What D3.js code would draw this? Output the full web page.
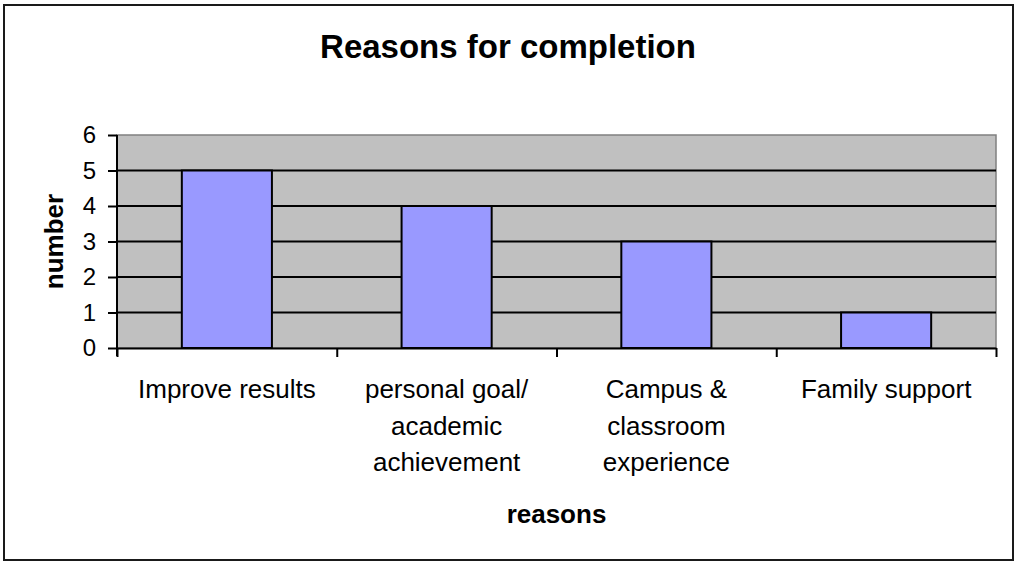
<!DOCTYPE html>
<meta charset="utf-8">
<style>
  body { margin: 0; background: #fff; }
  text { font-family: "Liberation Sans", Arial, sans-serif; fill: #000; }
</style>
<body>
<script src="https://cdn.jsdelivr.net/npm/d3@7"></script>
<script>
  // chart data
  var categories = ["Improve results", "personal goal/ academic achievement", "Campus & classroom experience", "Family support"];
  var tickLabels = [["Improve results"], ["personal goal/", "academic", "achievement"], ["Campus &", "classroom", "experience"], ["Family support"]];
  var values = [5, 4, 3, 1];
  var yTicks = [0, 1, 2, 3, 4, 5, 6];

  var W = 1016, H = 562;
  var plot = {left: 117, right: 996, top: 135, bottom: 348};

  var svg = d3.select("body").append("svg")
      .attr("width", W)
      .attr("height", H);

  // outer chart border
  svg.append("rect")
      .attr("x", 4).attr("y", 5)
      .attr("width", 1009).attr("height", 555)
      .attr("fill", "#fff")
      .attr("stroke", "#1a1a1a")
      .attr("stroke-width", 2);

  var x = d3.scaleBand()
      .domain(categories)
      .range([plot.left, plot.right])
      .paddingInner(0.59)
      .paddingOuter(0.295);

  // boundaries between categories, for the tick marks
  var xEdge = d3.scaleLinear()
      .domain([0, categories.length])
      .range([plot.left, plot.right]);

  var y = d3.scaleLinear()
      .domain([0, 6])
      .range([plot.bottom, plot.top]);

  // plot area
  svg.append("rect")
      .attr("x", plot.left).attr("y", plot.top)
      .attr("width", plot.right - plot.left)
      .attr("height", plot.bottom - plot.top)
      .attr("fill", "#c0c0c0")
      .attr("stroke", "#808080")
      .attr("stroke-width", 1.5);

  // gridlines
  svg.append("g").selectAll("line")
      .data(yTicks.filter(function (d) { return d > 0 && d < 6; }))
      .enter().append("line")
      .attr("x1", plot.left).attr("x2", plot.right)
      .attr("y1", function (d) { return y(d); })
      .attr("y2", function (d) { return y(d); })
      .attr("stroke", "#000")
      .attr("stroke-width", 2);

  // bars
  svg.selectAll(".bar")
      .data(values)
      .enter().append("rect")
      .attr("class", "bar")
      .attr("x", function (d, i) { return x(categories[i]); })
      .attr("width", x.bandwidth())
      .attr("y", function (d) { return y(d); })
      .attr("height", function (d) { return y(0) - y(d); })
      .attr("fill", "#9999ff")
      .attr("stroke", "#000")
      .attr("stroke-width", 2);

  // y axis
  var yAxis = svg.append("g")
      .attr("transform", "translate(" + plot.left + ",0)")
      .call(d3.axisLeft(y).tickValues(yTicks).tickFormat(d3.format("d")).tickSize(9).tickPadding(12));
  yAxis.select(".domain").attr("stroke", "#000").attr("stroke-width", 2)
      .attr("d", "M0," + (plot.bottom + 8) + "V" + plot.top);
  yAxis.selectAll(".tick line").attr("stroke", "#000").attr("stroke-width", 2);
  yAxis.selectAll("text").style("font-size", "24px").style("font-family", "'Liberation Sans', Arial, sans-serif").attr("fill", "#000");

  // x axis: ticks on category boundaries
  var xAxis = svg.append("g")
      .attr("transform", "translate(0," + plot.bottom + ")")
      .call(d3.axisBottom(xEdge).ticks(categories.length).tickFormat("").tickSize(9).tickSizeOuter(0));
  xAxis.select(".domain").attr("stroke", "#000").attr("stroke-width", 2);
  xAxis.selectAll(".tick line").attr("stroke", "#000").attr("stroke-width", 2);

  // category labels
  var lab = svg.append("g").selectAll("text")
      .data(tickLabels)
      .enter().append("text")
      .attr("text-anchor", "middle")
      .style("font-size", "26px")
      .attr("transform", function (d, i) {
        return "translate(" + (x(categories[i]) + x.bandwidth() / 2) + ",398)";
      });
  lab.selectAll("tspan")
      .data(function (d) { return d; })
      .enter().append("tspan")
      .attr("x", 0)
      .attr("y", function (d, i) { return i * 36.5; })
      .text(function (d) { return d; });

  // title
  svg.append("text")
      .attr("x", 508).attr("y", 58)
      .attr("text-anchor", "middle")
      .style("font-size", "33px")
      .style("font-weight", "bold")
      .text("Reasons for completion");

  // axis titles
  svg.append("text")
      .attr("x", (plot.left + plot.right) / 2).attr("y", 523)
      .attr("text-anchor", "middle")
      .style("font-size", "26px")
      .style("font-weight", "bold")
      .text("reasons");

  svg.append("text")
      .attr("transform", "translate(63," + ((plot.top + plot.bottom) / 2) + ") rotate(-90)")
      .attr("text-anchor", "middle")
      .style("font-size", "26px")
      .style("font-weight", "bold")
      .text("number");
</script>
</body>
